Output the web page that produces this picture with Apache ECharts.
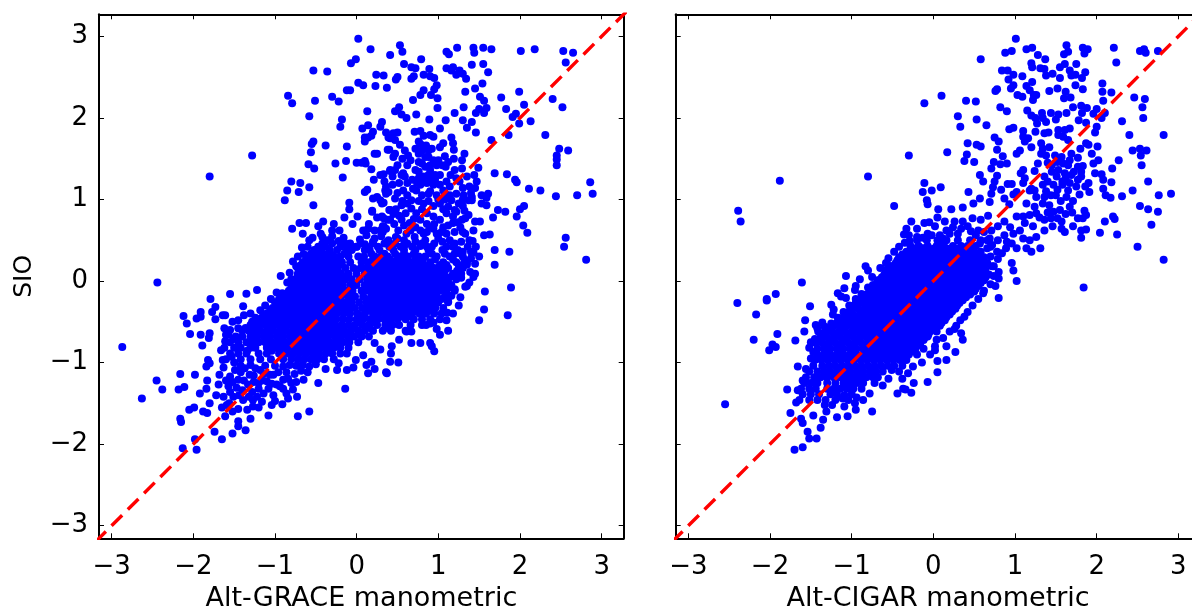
<!DOCTYPE html>
<html><head><meta charset="utf-8">
<style>html,body{margin:0;padding:0;background:#fff;overflow:hidden}#c{width:1192px;height:610px}</style>
<script src="https://cdn.jsdelivr.net/npm/echarts@6/dist/echarts.min.js"></script>
</head><body><div id="c"></div>
<script>
const tickValues=[-3,-2,-1,0,1,2,3];
const xNames=['Alt-GRACE manometric','Alt-CIGAR manometric'];
const yName='SIO';
const diagonal=[[-3.4,-3.4],[3.4,3.4]];
const graceUpper=[[0.02,2.97],[0.17,2.84],[0.41,2.77],[-0.01,2.72],[-0.07,2.67],[-0.53,2.58],[-0.36,2.57],[0.24,2.53],[0.33,2.52],[0.02,2.43],[0.08,2.40],[0.23,2.39],[0.37,2.37],[-0.12,2.34],[-0.08,2.34],[-0.84,2.27],[-0.79,2.18],[-0.51,2.21],[-0.30,2.26],[-0.22,2.20],[0.13,2.08],[-0.58,2.02],[-0.18,1.98],[-0.20,1.89],[0.07,1.87],[0.14,1.91],[0.31,1.95],[0.29,1.89],[0.20,1.83],[0.36,1.82],[0.39,1.76],[0.10,1.76],[0.14,1.76],[0.10,1.71],[0.18,1.78],[-1.28,1.54],[-0.53,1.71],[-0.55,1.68],[-0.38,1.66],[-0.12,1.65],[-0.56,1.58],[0.38,1.61],[0.22,1.56],[0.25,1.56],[-1.80,1.28],[-0.59,1.43],[-0.52,1.38],[-0.26,1.44],[-0.13,1.47],[0,1.45],[0.06,1.45],[0.10,1.47],[0.11,1.44],[0.18,1.37],[0.41,1.35],[-0.17,1.27],[0.29,1.30],[0.33,1.31],[0.21,1.24],[-0.80,1.22],[-0.69,1.20],[-0.58,1.15],[-0.85,1.11],[-0.71,1.09],[-0.88,0.99],[0.34,1.22],[0.36,1.16],[0.39,1.09],[0.10,1.09],[0.13,1.12],[0.20,1.01],[0.25,1.03],[0.29,0.99],[0.33,0.96],[0.36,1.07],[-0.09,0.96],[-0.09,0.88],[-0.53,0.93],[0.19,0.85],[0.40,0.87],[0.01,0.79],[0.31,0.79],[0.33,0.77],[0.38,0.75],[-0.70,0.71],[-0.62,0.71],[-0.41,0.73],[-0.47,0.67],[-0.79,0.64],[-0.66,0.58],[-0.21,0.62],[0.14,0.64],[0.22,0.62],[0.32,0.67],[0.36,0.64],[0.32,0.60],[-0.54,0.53],[-0.58,0.50],[-0.22,0.49],[-0.16,0.53],[0.04,0.51],[-0.67,0.41],[-0.65,0.33],[-0.50,0.38],[-0.08,0.46],[-0.12,0.38],[0,0.42],[0.37,0.48],[-0.93,0.06],[-0.80,0.02],[-2.44,-0.02],[-1.55,-0.16],[-1.35,-0.155],[-1.22,-0.11],[-0.91,-0.15],[-0.74,0.18],[-1.79,-0.22]];
const graceRight=[[0.53,2.89],[0.56,2.81],[0.79,2.72],[0.58,2.66],[0.67,2.62],[0.72,2.61],[0.67,2.48],[0.70,2.51],[0.89,2.60],[0.82,2.53],[0.90,2.51],[0.95,2.49],[0.50,2.50],[0.48,2.47],[1.10,2.81],[1.13,2.78],[1.23,2.86],[1.43,2.86],[1.44,2.80],[1.55,2.86],[1.65,2.84],[2.01,2.82],[2.18,2.84],[2.53,2.82],[2.65,2.80],[2.56,2.68],[1.41,2.65],[1.55,2.66],[1.10,2.61],[1.18,2.62],[1.16,2.58],[1.22,2.53],[1.26,2.58],[1.30,2.54],[1.34,2.48],[1.61,2.56],[1.54,2.42],[0.98,2.40],[0.95,2.35],[0.91,2.28],[0.82,2.34],[0.78,2.28],[0.69,2.22],[0.99,2.24],[0.99,2.12],[1.33,2.32],[1.45,2.36],[1.51,2.26],[1.56,2.21],[1.77,2.25],[1.99,2.32],[2.05,2.16],[2.40,2.23],[2.52,2.13],[1.83,2.11],[1.31,2.13],[0.52,2.13],[0.47,2.08],[0.55,2.04],[0.61,2.00],[0.73,2.04],[0.89,1.98],[1.09,1.97],[1.20,2.06],[1.50,2.11],[1.59,2.12],[1.46,2.06],[1.56,2.06],[1.30,1.97],[1.41,1.95],[1.35,1.88],[1.46,1.82],[1.91,2.01],[1.95,2.05],[1.99,1.93],[2.13,1.96],[1.86,1.79],[1.65,1.73],[2.31,1.79],[2.48,1.62],[2.59,1.60],[2.45,1.54],[2.45,1.49],[2.45,1.42],[1.02,1.87],[0.71,1.83],[0.78,1.84],[0.76,1.71],[0.82,1.78],[0.90,1.79],[0.94,1.77],[0.45,1.81],[0.50,1.82],[0.41,1.75],[0.47,1.73],[0.53,1.67],[0.40,1.61],[0.59,1.60],[0.63,1.54],[0.47,1.56],[0.45,1.52],[0.76,1.56],[0.80,1.60],[0.88,1.60],[0.76,1.46],[0.88,1.52],[0.92,1.62],[1.16,1.76],[1.18,1.69],[1.19,1.61],[1.06,1.69],[1.02,1.64],[1.08,1.53],[1.19,1.50],[1.32,1.56],[1.29,1.48],[1.49,1.39],[1.29,1.38],[0.94,1.48],[1.00,1.48],[0.98,1.42],[1.09,1.40],[0.84,1.40],[0.90,1.42],[0.50,1.42],[0.41,1.36],[0.47,1.36],[0.57,1.32],[0.55,1.30],[0.59,1.28],[0.76,1.34],[0.76,1.26],[0.82,1.28],[0.88,1.30],[0.96,1.30],[0.78,1.18],[0.86,1.20],[0.94,1.18],[1.69,1.32],[1.84,1.31],[1.94,1.24],[1.96,1.21],[1.44,1.30],[1.47,1.22],[1.45,1.14],[1.35,1.28],[1.22,1.26],[1.10,1.22],[1.14,1.16],[1.02,1.18],[1.22,1.07],[1.31,1.05],[2.11,1.13],[2.25,1.11],[2.44,1.04],[2.70,1.05],[2.86,1.21],[2.89,1.07],[1.61,1.07],[1.59,1.02],[1.53,1.05],[1.53,0.95],[1.59,0.93],[1.41,1.03],[1.37,0.99],[1.41,0.99],[1.73,0.87],[1.82,0.85],[2.05,0.92],[2.00,0.88],[1.96,0.79],[2.04,0.68],[2.09,0.59],[1.67,0.78],[1.51,0.73],[1.45,0.73],[1.37,0.81],[1.33,0.77],[1.29,0.75],[1.20,0.87],[1.22,0.85],[1.43,0.62],[1.56,0.56],[1.63,0.57],[1.42,0.49],[1.43,0.35],[1.69,0.38],[1.87,0.36],[1.69,0.20],[1.45,0.21],[2.56,0.53],[2.54,0.42],[2.81,0.26],[1.39,0.11],[1.45,0.09],[1.43,0.05],[1.33,-0.07],[1.35,-0.06],[1.89,-0.08],[1.57,-0.13],[0.73,1.11],[0.69,1.13],[0.88,1.07],[0.98,1.05],[1.06,1.11],[1.16,0.99],[1.12,0.91],[1.02,0.95],[0.67,0.89],[0.55,0.93],[0.41,0.87],[0.47,1.01],[0.57,1.11],[0.67,0.99],[0.82,0.95],[0.19,0.86],[0.31,0.95],[0.35,1.11],[0.73,0.83],[0.86,0.83],[0.94,0.79],[1.02,0.75],[1.10,0.83],[1.18,0.79],[0.41,0.75],[0.55,0.75],[0.65,0.71],[0.78,0.75],[0.90,0.66],[1.06,0.66],[1.18,0.71],[1.27,0.66],[1.33,0.58],[1.10,0.58],[0.98,0.58],[0.82,0.58],[0.71,0.54],[0.61,0.58],[0.51,0.62],[0.39,0.50],[0.33,0.67],[0.29,0.62]];
const graceMid=[[0.78,1.68],[0.85,1.66],[0.72,1.62],[0.84,1.52],[0.8,1.44],[0.72,1.36],[0.9,1.36],[0.8,1.22],[0.9,1.25],[0.96,1.24],[0.74,1.2],[1.02,1.3],[1.05,1.42],[1.12,1.46],[1.15,1.3],[1.2,1.36],[1.26,1.22],[1.3,1.14],[1.38,1.16],[1.4,1.08],[1.08,1.08],[1.14,1.05],[0.62,1.2],[0.68,1.24],[0.52,1.2],[0.44,1.28],[0.62,1.42],[0.66,1.48],[0.56,1.5],[0.8,1.05],[0.76,0.98],[0.88,0.98],[0.94,0.92],[0.62,0.95],[0.48,0.88],[0.6,0.83],[0.8,0.88],[1.06,0.88],[1.25,0.95],[1.3,0.92],[1.32,0.86],[0.86,0.7],[0.72,0.66],[0.58,0.68],[0.46,0.7],[0.94,0.64],[1.0,0.52],[1.14,0.5],[1.2,0.6],[1.28,0.48],[1.36,0.42],[1.3,0.36],[1.4,0.28],[1.35,0.2],[0.3,0.55],[0.22,0.52],[0.12,0.56],[0.48,0.54],[0.58,0.5],[0.72,0.48],[0.84,0.5],[-0.3,0.55],[-0.36,0.5],[-0.44,0.58],[0.08,0.62],[-0.05,0.7],[-0.15,0.78],[-0.28,0.7],
[-0.85,-0.02],[-0.9,-0.2],[-0.98,-0.14],[-1.05,-0.22],[-1.12,-0.3],[-1.18,-0.36],[-1.3,-0.4],[-1.28,-0.5],[-1.45,-0.48],[-1.45,-0.58],[-1.55,-0.6],[-1.6,-0.66],[-0.82,0.1],[-0.78,0.24],[-0.72,0.3],[-0.6,0.42],[-0.42,0.54],[-0.3,0.62],[0.15,0.7],[0.25,0.78],[0.45,0.82],[0.52,0.8],[0.7,0.76],[0.66,0.62],[0.78,0.62],[0.86,0.6],[0.95,0.7],[1.04,0.6],[1.12,0.68],[1.24,0.72],[1.3,0.6],[1.18,0.42],[1.26,0.34],[1.32,0.26],[1.4,0.36],[1.38,0.5],[1.46,0.42],[1.5,0.3],[1.3,0.18],[1.38,-0.02],[1.24,0.1],[1.28,0.04],[1.2,-0.1],[1.25,-0.3],[1.18,-0.4],[0.5,0.52],[0.2,0.48],[0.1,0.45],[0.6,0.45],[0.78,0.43],[0.92,0.42],[1.05,0.48],[0.56,0.98],[0.62,1.05],[0.5,1.08],[0.44,1.18],[0.9,1.1],[1.0,1.0],[1.08,1.0],[1.3,1.0]];
const graceLower=[[-2.12,-0.43],[-2.08,-0.52],[-2.04,-0.65],[-1.91,-0.38],[-1.91,-0.44],[-1.96,-0.46],[-1.73,-0.32],[-1.77,-0.38],[-1.73,-0.47],[-1.64,-0.42],[-1.61,-0.42],[-1.39,-0.31],[-1.38,-0.42],[-1.52,-0.50],[-1.24,-0.45],[-1.22,-0.51],[-1.91,-0.66],[-1.80,-0.64],[-1.81,-0.70],[-1.89,-0.79],[-2.87,-0.81],[-1.62,-0.58],[-1.57,-0.66],[-1.51,-0.71],[-1.61,-0.74],[-1.66,-0.85],[-1.82,-0.97],[-1.80,-1.01],[-1.84,-1.05],[-1.64,-0.97],[-1.63,-1.06],[-1.53,-0.93],[-2.16,-1.14],[-1.98,-1.15],[-2.45,-1.22],[-2.38,-1.33],[-2.63,-1.44],[-2.18,-1.33],[-2.11,-1.30],[-1.83,-1.22],[-1.84,-1.32],[-1.92,-1.38],[-1.68,-1.15],[-1.69,-1.27],[-1.72,-1.40],[-1.63,-1.42],[-1.55,-1.17],[-1.49,-1.09],[-1.45,-1.21],[-1.37,-1.07],[-1.31,-1.15],[-1.18,-1.09],[-1.06,-1.15],[-1.57,-1.29],[-1.47,-1.31],[-1.33,-1.27],[-1.2,-1.25],[-1.1,-1.23],[-1.02,-1.15],[-0.9,-1.21],[-0.98,-1.27],[-0.86,-1.38],[-0.73,-1.42],[-0.94,-1.29],[-0.8,-1.25],[-0.65,-1.21],[-0.47,-1.25],[-1.14,-1.38],[-1.02,-1.4],[-0.91,-1.51],[-1.04,-1.52],[-1.16,-1.48],[-1.27,-1.46],[-1.39,-1.46],[-1.51,-1.42],[-1.59,-1.52],[-1.45,-1.57],[-1.27,-1.54],[-1.2,-1.55],[-1.08,-1.65],[-0.72,-1.66],[-0.58,-1.6],[-2.05,-1.58],[-1.99,-1.55],[-1.88,-1.6],[-1.83,-1.62],[-1.8,-1.5],[-2.16,-1.69],[-2.15,-1.73],[-1.61,-1.66],[-1.65,-1.55],[-1.45,-1.72],[-1.45,-1.78],[-1.3,-1.69],[-1.36,-1.83],[-1.52,-1.87],[-1.74,-1.85],[-1.65,-1.94],[-1.98,-1.94],[-2.13,-2.05],[-1.96,-2.07],[-0.14,-1.32],[-0.38,-1.08],[-0.22,-1.01],[-0.24,-1.09],[-0.12,-1.09],[-0.04,-1.06],[-0.01,-0.97],[0.08,-0.91],[0.18,-0.99],[0.12,-1.03],[0.22,-1.08],[0.14,-1.13],[0.36,-1.12],[1.56,-0.35],[1.50,-0.48],[1.85,-0.42],[1.27,-0.2],[1.16,-0.18],[1.04,-0.22],[1.12,-0.25],[1.11,-0.39],[0.96,-0.33],[1.1,-0.48],[1.12,-0.61],[1.02,-0.66],[0.98,-0.59],[0.9,-0.52],[0.8,-0.54],[0.94,-0.51],[0.67,-0.62],[0.61,-0.62],[0.67,-0.76],[0.78,-0.76],[0.9,-0.76],[0.92,-0.8],[0.95,-0.86],[0.52,-0.72],[0.43,-0.8],[0.42,-0.89],[0.29,-0.84],[0.22,-0.76],[0.41,-0.99],[0.51,-1.0],[0.37,-1.13],
[-1.5,-1.0],[-1.42,-1.04],[-1.3,-1.03],[-1.24,-1.07],[-1.12,-1.04],[-1.0,-1.04],[-0.9,-1.05],[-0.82,-1.03],[-0.74,-1.04],[-0.66,-1.03],[-0.58,-1.05],[-0.5,-1.02],[-1.42,-1.12],[-1.26,-1.16],[-1.14,-1.14],[-0.96,-1.12],[-0.86,-1.12],[-0.76,-1.14],[-0.68,-1.1],[-0.6,-1.12],[-1.52,-1.24],[-1.38,-1.22],[-1.26,-1.24],[-1.16,-1.22],[-1.04,-1.26],[-0.84,-1.2],[-0.74,-1.24],[-1.4,-1.34],[-1.28,-1.36],[-1.2,-1.32],[-1.08,-1.32],[-0.9,-1.32],[-0.78,-1.33],[-1.55,-1.36],[-1.6,-1.22],[-1.44,-1.4],[-1.32,-1.42],[-1.22,-1.42],[-1.0,-1.47],[-0.84,-1.44],[-1.34,-1.58],[-1.52,-1.6],[-1.56,-1.5]];
const graceCoreRows=[
[0.46,[-0.42,-0.3,-0.14,0.05,0.2,0.34,0.47,0.62,0.8,0.95,1.2]],
[0.42,[-0.47,-0.38,-0.2,0.0,0.12,0.26,0.4,0.54,0.68,0.86,1.1]],
[0.38,[-0.52,-0.44,-0.33,-0.24,-0.06,0.1,0.16,0.28,0.45,0.58,0.72,0.88,1.05,1.24]],
[0.335,[-0.56,-0.48,-0.41,-0.32,-0.15,0.18,0.34,0.47,0.58,0.7,0.92,1.08,1.2]],
[0.30,[-0.6,-0.52,-0.45,-0.37,-0.28,-0.2,-0.1,0.02,0.09,0.22,0.3,0.38,0.52,0.63,0.76,0.84,0.98,1.14,1.3]],
[0.265,[-0.62,-0.54,-0.46,-0.38,-0.3,-0.22,0.2,0.31,0.41,0.5,0.6,0.72,0.81,0.96,1.18]],
[0.23,[-0.66,-0.58,-0.5,-0.42,-0.34,-0.26,-0.18,-0.08,0.06,0.14,0.25,0.36,0.45,0.55,0.68,0.75,0.9,1.06,1.22,1.35]],
[0.195,[-0.68,-0.6,-0.53,-0.44,-0.37,-0.29,-0.21,0.17,0.28,0.39,0.47,0.57,0.64,0.72,0.82,0.9,1.02,1.1,1.25]],
[0.16,[-0.72,-0.63,-0.55,-0.47,-0.4,-0.32,-0.24,-0.14,-0.04,0.05,0.12,0.2,0.32,0.42,0.5,0.6,0.67,0.78,0.85,0.95,1.0,1.12,1.3]],
[0.125,[-0.69,-0.61,-0.53,-0.46,-0.38,-0.3,-0.23,0.23,0.31,0.4,0.49,0.57,0.65,0.73,0.81,0.9,0.98,1.08,1.23]],
[0.09,[-0.72,-0.66,-0.58,-0.5,-0.43,-0.35,-0.27,-0.19,-0.1,0,0.1,0.18,0.27,0.35,0.45,0.53,0.61,0.69,0.77,0.86,0.94,1.04,1.18,1.28]],
[0.055,[-0.72,-0.64,-0.56,-0.49,-0.41,-0.34,-0.26,-0.18,0.16,0.25,0.33,0.42,0.5,0.58,0.66,0.74,0.82,0.9,0.99,1.08,1.16]],
[0.02,[-0.75,-0.68,-0.6,-0.53,-0.46,-0.38,-0.3,-0.22,-0.14,-0.06,0.04,0.13,0.22,0.31,0.38,0.46,0.54,0.62,0.7,0.78,0.86,0.95,1.03,1.12,1.22]],
[-0.015,[-0.73,-0.65,-0.58,-0.51,-0.44,-0.36,-0.29,-0.21,0.17,0.25,0.33,0.41,0.5,0.58,0.66,0.74,0.82,0.9,0.99,1.08]],
[-0.05,[-0.78,-0.7,-0.63,-0.55,-0.48,-0.4,-0.33,-0.25,-0.17,-0.08,0.0,0.1,0.18,0.27,0.34,0.42,0.5,0.58,0.66,0.74,0.82,0.9,0.98,1.06,1.16]],
[-0.085,[-0.8,-0.73,-0.65,-0.58,-0.5,-0.43,-0.35,-0.27,-0.2,0.14,0.22,0.3,0.38,0.46,0.54,0.62,0.7,0.78,0.86,0.94,1.02,1.12]],
[-0.12,[-0.83,-0.76,-0.68,-0.6,-0.52,-0.45,-0.37,-0.29,-0.21,-0.13,-0.05,0.06,0.14,0.23,0.3,0.38,0.46,0.54,0.62,0.7,0.78,0.86,0.94,1.02,1.1,1.2]],
[-0.155,[-0.86,-0.79,-0.71,-0.63,-0.55,-0.47,-0.39,-0.31,-0.23,0.19,0.27,0.35,0.43,0.51,0.59,0.67,0.75,0.83,0.92]],
[-0.19,[-0.9,-0.82,-0.74,-0.66,-0.58,-0.5,-0.43,-0.35,-0.27,-0.19,-0.1,-0.02,0.08,0.18,0.26,0.34,0.42,0.5,0.58,0.66,0.74,0.82,0.9,0.98,1.08]],
[-0.225,[-0.95,-0.87,-0.79,-0.71,-0.63,-0.56,-0.47,-0.39,-0.31,-0.23,0.13,0.22,0.3,0.38,0.46,0.54,0.62,0.7,0.78,0.86,0.95]],
[-0.26,[-1.0,-0.92,-0.85,-0.77,-0.69,-0.62,-0.54,-0.46,-0.38,-0.3,-0.22,-0.14,-0.06,0.03,0.12,0.2,0.28,0.36,0.44,0.52,0.6,0.68,0.76,0.84,0.92,1.0,1.12]],
[-0.295,[-0.98,-0.9,-0.82,-0.74,-0.66,-0.58,-0.5,-0.42,-0.34,-0.26,0.16,0.24,0.32,0.4,0.48,0.56,0.64,0.72,0.8,0.88]],
[-0.33,[-1.03,-0.95,-0.88,-0.8,-0.72,-0.65,-0.57,-0.5,-0.42,-0.34,-0.26,-0.18,-0.1,-0.02,0.07,0.16,0.24,0.32,0.4,0.48,0.56,0.64,0.72,0.8,0.88,0.96,1.06]],
[-0.365,[-1.06,-0.98,-0.91,-0.83,-0.75,-0.68,-0.6,-0.52,-0.44,-0.36,-0.28,0.14,0.24,0.32,0.4,0.48,0.56,0.64,0.72,0.81,0.9]],
[-0.40,[-1.1,-1.02,-0.95,-0.87,-0.79,-0.71,-0.64,-0.56,-0.48,-0.4,-0.32,-0.24,-0.16,-0.08,0.01,0.1,0.2,0.28,0.36,0.44,0.52,0.6,0.68,0.77,0.85,0.95,1.04]],
[-0.435,[-1.15,-1.07,-1.0,-0.92,-0.84,-0.76,-0.68,-0.6,-0.53,-0.45,-0.37,-0.29,0.05,0.22,0.38,0.55,0.65]],
[-0.47,[-1.2,-1.12,-1.04,-0.96,-0.88,-0.8,-0.72,-0.65,-0.57,-0.49,-0.41,-0.33,-0.25,-0.17,-0.09,0.0,0.08,0.16,0.26,0.34,0.42,0.5,0.6,0.7,0.8,0.9,1.02]],
[-0.505,[-1.26,-1.16,-1.08,-1.0,-0.93,-0.85,-0.77,-0.69,-0.62,-0.54,-0.46,-0.38,-0.3,0.03,0.2,0.4]],
[-0.54,[-1.3,-1.2,-1.12,-1.05,-0.97,-0.89,-0.81,-0.73,-0.66,-0.58,-0.5,-0.42,-0.34,-0.26,-0.18,-0.1,-0.02,0.07,0.15,0.25,0.35,0.44,0.52,0.66,0.85]],
[-0.575,[-1.36,-1.22,-1.06,-0.9,-0.74,-0.66,-0.59,-0.51,-0.43,-0.35,-0.27,-0.03,0.16,0.38]],
[-0.61,[-1.4,-1.32,-1.25,-1.18,-1.1,-1.02,-0.94,-0.86,-0.78,-0.7,-0.63,-0.55,-0.47,-0.39,-0.31,-0.23,-0.15,-0.07,0.02,0.1,0.2,0.32,0.42,0.6]],
[-0.645,[-1.27,-1.12,-0.94,-0.78,-0.7,-0.62,-0.54,-0.46,-0.38,-0.31,-0.15,0.02]],
[-0.68,[-1.48,-1.4,-1.3,-1.22,-1.14,-1.06,-0.98,-0.9,-0.82,-0.74,-0.66,-0.58,-0.5,-0.42,-0.35,-0.27,-0.19,-0.11,-0.03,0.06,0.15]],
[-0.715,[-1.24,-1.08,-0.92,-0.76,-0.68,-0.6,-0.52,-0.44,-0.37,-0.21]],
[-0.75,[-1.55,-1.45,-1.35,-1.27,-1.2,-1.12,-1.04,-0.96,-0.88,-0.8,-0.72,-0.64,-0.56,-0.48,-0.4,-0.33,-0.25,-0.17,-0.09,0.02]],
[-0.785,[-1.28,-1.06,-0.9,-0.74,-0.66,-0.58,-0.5,-0.42,-0.26]],
[-0.82,[-1.62,-1.5,-1.42,-1.3,-1.24,-1.1,-1.0,-0.92,-0.84,-0.76,-0.68,-0.6,-0.52,-0.44,-0.36,-0.28,-0.2,-0.1]],
[-0.855,[-1.34,-1.04,-0.88,-0.72,-0.64,-0.56,-0.48,-0.32]],
[-0.89,[-1.55,-1.45,-1.35,-1.2,-1.1,-0.95,-0.86,-0.78,-0.7,-0.62,-0.54,-0.46,-0.38,-0.3,-0.2,-0.12]],
[-0.96,[-1.6,-1.42,-1.3,-1.18,-1.05,-0.9,-0.8,-0.72,-0.64,-0.56,-0.48,-0.4,-0.28]]
];
const cigarOuter=[[-0.11,2.18],[-0.30,1.54],[-0.8,1.28],[-1.88,1.23],[-2.39,0.86],[-2.36,0.73],[-0.48,0.92],[-0.11,1.2],[-0.13,1.09],[-0.08,0.99],[-0.07,0.94],[-0.27,0.73],[-0.11,0.71],[-0.33,0.64],[-0.2,0.64],[-0.36,0.57],[-0.29,0.49],[-0.2,0.54],[-0.13,0.53],[-0.07,0.58],[-0.58,0.22],[-0.83,0.18],[-0.8,0.13],[-1.07,0.06],[-0.9,0.02],[-1.09,-0.09],[-1.61,-0.02],[-1.93,-0.16],[-2.04,-0.22],[-1.17,-0.15],[-1.07,-0.21],[-0.95,-0.06],[-0.96,-0.11],[-0.74,-0.05],[-0.68,0.01],[-0.25,0.4],[-0.15,0.4],[-0.11,0.4],[-0.29,0.34],[-0.19,0.22],
[1.01,2.97],[0.88,2.8],[0.96,2.82],[1.14,2.84],[1.21,2.86],[1.28,2.77],[1.37,2.72],[1.63,2.89],[1.65,2.81],[1.6,2.78],[1.83,2.86],[1.89,2.84],[1.85,2.79],[2.21,2.86],[2.53,2.82],[2.58,2.84],[2.6,2.8],[2.75,2.82],[2.24,2.68],[0.58,2.72],[1.2,2.67],[1.21,2.62],[0.84,2.58],[0.91,2.58],[0.98,2.53],[1.09,2.51],[0.92,2.47],[1.31,2.61],[1.36,2.6],[1.38,2.52],[1.46,2.54],[1.55,2.62],[1.61,2.66],[1.75,2.66],[1.55,2.49],[1.67,2.58],[1.69,2.52],[1.74,2.53],[1.86,2.56],[1.82,2.49],[2.07,2.42],[2.07,2.32],[2.18,2.31],[1.21,2.44],[1.14,2.39],[1.18,2.34],[0.98,2.4],[0.95,2.36],[0.76,2.33],[0.78,2.35],[1.42,2.33],[1.52,2.36],[1.62,2.32],[1.74,2.4],[1.83,2.35],[1.03,2.28],[1.09,2.26],[1.23,2.28],[1.26,2.28],[1.22,2.22],[1.6,2.24],[1.68,2.25],[0.1,2.27],[0.4,2.21],[0.52,2.2],[2.08,2.21],[2.46,2.25],[2.59,2.23],[2.56,2.13],[2.57,2.0],[0.82,2.13],[0.9,2.08],[1.15,2.09],[1.2,2.03],[1.25,2],[1.27,1.93],[1.33,2.06],[1.34,2.0],[1.38,1.95],[1.44,2.06],[1.53,2.04],[1.5,1.98],[1.63,2.06],[1.71,2.13],[1.81,2.15],[1.88,2.12],[1.82,2.06],[2.0,2.11],[1.96,2.05],[2.1,2.06],[1.78,1.97],[1.87,1.94],[2.06,2],[2.0,1.89],[0.3,2.02],[0.53,1.98],[0.33,1.89],[0.65,1.91],[2.31,1.96],[0.93,1.86],[0.98,1.88],[1.1,1.84],[1.25,1.83],[1.36,1.81],[1.41,1.82],[1.67,1.87],[1.53,1.85],[1.61,1.85],[1.53,1.79],[1.59,1.77],[1.65,1.73],[1.98,1.82],[2.4,1.79],[2.82,1.79],[0.75,1.76],[0.8,1.71],[1.1,1.77],[1.16,1.75],[1.12,1.71],[1.2,1.64],[1.06,1.6],[1.02,1.56],[0.42,1.69],[0.53,1.67],[0.58,1.65],[0.17,1.58],[0.41,1.55],[0.38,1.47],[0.5,1.46],[0.78,1.61],[0.85,1.53],[0.74,1.46],[0.82,1.43],[0.9,1.44],[0.71,1.38],[1.32,1.69],[1.34,1.62],[1.42,1.64],[1.32,1.56],[1.38,1.54],[1.49,1.54],[1.28,1.44],[1.4,1.45],[1.87,1.69],[1.9,1.67],[2.01,1.65],[1.8,1.62],[1.94,1.56],[1.69,1.56],[1.67,1.48],[1.77,1.51],[2.02,1.48],[1.96,1.44],[2.27,1.48],[2.44,1.6],[2.53,1.62],[2.54,1.54],[2.61,1.6],[2.55,1.42],[1.57,1.52],[1.59,1.44],[1.53,1.36],[1.45,1.34],[1.51,1.28],[1.61,1.32],[1.69,1.3],[1.77,1.4],[1.83,1.41],[1.81,1.34],[2.19,1.38],[1.1,1.36],[1.07,1.32],[1.24,1.35],[1.12,1.26],[1.1,1.2],[1.36,1.28],[1.4,1.22],[1.47,1.18],[1.34,1.18],[1.24,1.11],[1.2,1.13],[0.57,1.3],[0.61,1.22],[0.78,1.29],[0.75,1.22],[0.73,1.15],[0.91,1.19],[0.96,1.19],[0.71,1.07],[0.83,1.12],[0.43,1.09],[0.09,1.15],[-0.02,1.11],[1.77,1.24],[1.81,1.28],[1.67,1.2],[1.75,1.16],[1.65,1.11],[1.79,1.06],[1.91,1.09],[1.98,1.32],[2.06,1.31],[2.08,1.24],[2.18,1.21],[2.08,1.13],[2.11,1.05],[2.17,1.02],[2.31,1.04],[2.44,1.11],[2.63,1.22],[2.76,1.05],[2.91,1.07],[1.02,1.09],[0.98,1.06],[0.87,1.01],[0.93,0.94],[0.69,0.97],[0.57,1.01],[0.49,0.95],[0.36,0.9],[0.22,0.88],[0.06,0.88],[1.18,1.11],[1.26,1.03],[1.36,1.03],[1.44,1.05],[1.14,0.95],[1.24,0.91],[1.34,0.95],[1.42,0.93],[1.55,0.87],[1.63,1.03],[1.71,0.98],[1.67,0.91],[2.53,0.92],[2.63,0.88],[2.75,0.85],[2.67,0.69],[2.5,0.42],[2.82,0.26],[1.84,-0.08],[2.2,0.79],[2.22,0.76],[2.1,0.73],[2.04,0.59],[2.25,0.57],[1.85,0.86],[1.87,0.81],[1.77,0.77],[1.83,0.77],[1.71,0.67],[1.81,0.62],[1.87,0.63],[1.81,0.53],[1.61,0.6],[1.57,0.64],[1.1,0.79],[1.18,0.81],[1.26,0.83],[1.36,0.75],[1.44,0.77],[1.52,0.77],[1.57,0.73],[1.46,0.67],[1.36,0.62],[1.22,0.67],[1.12,0.71],[1.02,0.79],[0.67,0.8],[0.48,0.77],[0.58,0.75],[0.36,0.73],[0.26,0.73],[0.14,0.73],[0.02,0.67],[0.87,0.73],[0.79,0.67],[0.71,0.62],[0.42,0.67],[0.46,0.61],[0.2,0.58],[0.3,0.58],[1.26,0.54],[1.18,0.5],[1.1,0.52],[0.98,0.58],[1.06,0.62],[0.87,0.56],[0.79,0.5],[0.69,0.52],[1.14,0.4],[1.2,0.36],[1.31,0.4],[1.02,0.4],[0.89,0.4],[0.79,0.27],[0.96,0.22],[0.98,0.13],[1.02,0.0],[0.8,0.11],[0.8,0.03],[0.76,-0.06],[0.57,0.46],[0.08,0.48],[0.04,0.4],[0.61,-0.15],[0.8,-0.21],
[0.94,0.66],[0.9,0.48],[0.96,0.46],[0.72,0.44],[0.78,0.36],[0.7,0.3],[0.84,0.34],[0.74,0.18],[0.66,0.4],[0.16,0.62],[0.24,0.66],[0.34,0.64],[0.52,0.56],[0.62,0.6],[0.08,0.56],[-0.02,0.56],[0.12,0.52],[-0.05,0.72],[0.05,0.78],[1.38,1.1],[1.52,1.12],[1.58,1.18],[1.5,1.05],[1.56,0.98],[1.47,0.85],[1.3,0.78],[1.4,0.84],[1.62,0.82],[1.7,0.84],[1.65,1.42],[1.72,1.34],[1.45,1.42],[1.52,1.46],[1.62,1.26],[1.58,1.22],[1.9,1.2],[1.86,1.16],
[-0.75,0.05],[-0.8,-0.08],[-0.88,-0.16],[-0.95,-0.22],[-1.03,-0.3],[-1.1,-0.38],[-1.17,-0.45],[-1.25,-0.52],[-1.33,-0.56],[-1.42,-0.58],[-1.5,-0.75],[-1.52,-0.82],[-1.5,-0.95],[-0.65,0.16],[-0.55,0.28],[-0.48,0.36],[-0.42,0.42],[-0.35,0.47],[-0.3,0.56],[0.72,0.18],[0.74,0.06],[0.7,-0.04],[0.62,-0.12],[0.55,-0.22],[0.48,-0.3],[0.42,-0.38],[0.38,-0.44],[0.28,-0.55],[0.2,-0.62],[0.12,-0.7],[0.02,-0.8],[-0.04,-0.9],[-0.14,-1.0],[-0.25,-1.05],[-0.38,-1.2],[-0.55,-1.2],[-0.62,-1.28],[-0.78,-1.38],[0.55,0.62],[0.66,0.5],[0.7,0.42]];
const cigarLower=[[-0.44,-1.38],[-0.37,-1.32],[-0.34,-1.33],[-0.27,-1.37],[-0.24,-1.25],[-0.07,-1.24],[0.05,-1.12],[0.05,-0.98],[0.16,-0.97],[-0.31,-1.13],[-0.51,-1.09],[0.02,-0.85],[-0.07,-0.68],[0.04,-0.72],[0.16,-0.8],[0.27,-0.87],[0.26,-0.59],[0.34,-0.64],[0.33,-0.48],[0.36,-0.72],[-0.75,-1.6],[-0.86,-1.46],[-0.94,-1.43],[-0.96,-1.5],[-0.95,-1.58],[-1.05,-1.66],[-1.09,-1.54],[-1.11,-1.44],[-1.09,-1.4],[-1.18,-1.67],[-1.24,-1.52],[-1.33,-1.52],[-1.31,-1.6],[-1.35,-1.7],[-1.47,-1.65],[-1.38,-1.8],[-1.43,-1.93],[-1.52,-1.93],[-1.54,-1.85],[-1.6,-1.74],[-1.62,-1.69],[-1.6,-2.04],[-1.7,-2.07],[-1.75,-1.62],[-1.68,-1.49],[-1.79,-1.33],[-1.66,-1.34],[-1.6,-1.22],[-1.66,-1.05],[-1.56,-1.08],[-2.55,-1.51],[-2.4,-0.27],[-2.04,-0.24],[-2.17,-0.41],[-2.2,-0.72],[-1.91,-0.65],[-2.01,-0.85],[-1.97,-0.78],[-1.93,-0.81],[-1.69,-0.73],[-1.58,-0.62],[-1.57,-0.48],[-1.51,-0.31],[-1.25,-0.29],[-1.22,-0.35],[-1.23,-0.41],[-1.36,-0.51],[-1.44,-0.54],[-1.41,-0.62],[-1.45,-0.71],[-1.27,-0.6],[-1.47,-0.87],[-1.13,-0.19]];
const cigarCoreRows=[
[0.5,[-0.2,-0.08,0.05,0.16,0.3,0.45,0.58]],
[0.43,[-0.28,-0.18,-0.07,0.04,0.13,0.24,0.34,0.42,0.52]],
[0.395,[-0.22,-0.12,0.0,0.08,0.18,0.28,0.38,0.46]],
[0.36,[-0.33,-0.24,-0.15,-0.06,0.02,0.1,0.18,0.26,0.34,0.42,0.5,0.58]],
[0.325,[-0.38,-0.3,-0.22,-0.13,-0.04,0.05,0.14,0.22,0.3,0.38,0.46,0.54]],
[0.29,[-0.42,-0.34,-0.26,-0.18,-0.1,-0.02,0.06,0.14,0.22,0.3,0.38,0.46,0.54,0.62]],
[0.255,[-0.44,-0.36,-0.28,-0.2,-0.12,-0.04,0.04,0.12,0.2,0.28,0.36,0.44,0.52,0.6]],
[0.22,[-0.46,-0.38,-0.3,-0.22,-0.14,-0.06,0.02,0.1,0.18,0.26,0.34,0.42,0.5,0.58,0.66]],
[0.185,[-0.52,-0.44,-0.36,-0.28,-0.2,-0.12,-0.04,0.06,0.14,0.22,0.3,0.38,0.46,0.54,0.62]],
[0.15,[-0.56,-0.48,-0.4,-0.32,-0.24,-0.16,-0.08,0,0.08,0.16,0.24,0.32,0.4,0.48,0.56,0.64]],
[0.115,[-0.58,-0.5,-0.42,-0.34,-0.26,-0.18,-0.1,-0.02,0.06,0.14,0.22,0.3,0.38,0.46,0.54,0.62]],
[0.08,[-0.6,-0.52,-0.44,-0.36,-0.28,-0.2,-0.12,-0.04,0.04,0.12,0.2,0.28,0.36,0.44,0.52,0.6,0.68]],
[0.045,[-0.63,-0.55,-0.47,-0.39,-0.31,-0.23,-0.15,-0.07,0.01,0.09,0.17,0.25,0.33,0.41,0.49,0.57,0.64]],
[0.01,[-0.66,-0.58,-0.5,-0.42,-0.34,-0.26,-0.18,-0.1,-0.02,0.06,0.14,0.22,0.3,0.38,0.46,0.54,0.62]],
[-0.025,[-0.69,-0.61,-0.53,-0.45,-0.37,-0.29,-0.21,-0.13,-0.05,0.03,0.11,0.19,0.27,0.35,0.43,0.51,0.58]],
[-0.06,[-0.72,-0.64,-0.56,-0.48,-0.4,-0.32,-0.24,-0.16,-0.08,0,0.08,0.16,0.24,0.32,0.4,0.48,0.55]],
[-0.095,[-0.75,-0.67,-0.59,-0.51,-0.43,-0.35,-0.27,-0.19,-0.11,-0.03,0.05,0.13,0.21,0.29,0.37,0.45,0.52]],
[-0.13,[-0.78,-0.7,-0.62,-0.54,-0.46,-0.38,-0.3,-0.22,-0.14,-0.06,0.02,0.1,0.18,0.26,0.34,0.42,0.5]],
[-0.165,[-0.82,-0.74,-0.66,-0.58,-0.5,-0.42,-0.34,-0.26,-0.18,-0.1,-0.02,0.06,0.14,0.22,0.3,0.38,0.45]],
[-0.2,[-0.86,-0.78,-0.7,-0.62,-0.54,-0.46,-0.38,-0.3,-0.22,-0.14,-0.06,0.02,0.1,0.18,0.26,0.34,0.4]],
[-0.235,[-0.91,-0.83,-0.75,-0.67,-0.59,-0.51,-0.43,-0.35,-0.27,-0.19,-0.11,-0.03,0.05,0.13,0.21,0.29,0.36]],
[-0.27,[-0.95,-0.87,-0.79,-0.71,-0.63,-0.55,-0.47,-0.39,-0.31,-0.23,-0.15,-0.07,0.01,0.09,0.17,0.25,0.32]],
[-0.305,[-0.98,-0.82,-0.74,-0.66,-0.58,-0.5,-0.42,-0.34,-0.26,-0.18,-0.1,-0.02,0.06,0.14,0.22,0.29]],
[-0.34,[-1.0,-0.92,-0.84,-0.76,-0.68,-0.6,-0.52,-0.44,-0.36,-0.28,-0.2,-0.12,-0.04,0.04,0.12,0.2,0.27]],
[-0.375,[-1.03,-0.79,-0.71,-0.63,-0.55,-0.47,-0.39,-0.31,-0.23,-0.15,-0.07,0.01,0.09,0.17,0.23]],
[-0.41,[-1.06,-0.98,-0.9,-0.82,-0.74,-0.66,-0.58,-0.5,-0.42,-0.34,-0.26,-0.18,-0.1,-0.02,0.06,0.14,0.2]],
[-0.445,[-1.1,-1.02,-0.94,-0.86,-0.78,-0.7,-0.62,-0.54,-0.46,-0.38,-0.3,-0.22,-0.14,-0.06,0.02,0.1,0.16]],
[-0.48,[-1.15,-1.07,-0.99,-0.91,-0.83,-0.75,-0.67,-0.59,-0.51,-0.43,-0.35,-0.27,-0.19,-0.11,-0.03,0.05,0.14]],
[-0.515,[-1.18,-1.1,-1.02,-0.94,-0.86,-0.78,-0.7,-0.62,-0.54,-0.46,-0.38,-0.3,-0.22,-0.14,-0.06,0.02,0.1]],
[-0.55,[-1.22,-1.14,-1.06,-0.98,-0.9,-0.82,-0.74,-0.66,-0.58,-0.5,-0.42,-0.34,-0.26,-0.18,-0.1,-0.02,0.08]],
[-0.585,[-1.27,-1.11,-0.95,-0.87,-0.79,-0.71,-0.63,-0.55,-0.47,-0.39,-0.31,-0.23,-0.15,-0.07,0.02]],
[-0.62,[-1.32,-1.24,-1.16,-1.08,-1.0,-0.92,-0.84,-0.76,-0.68,-0.6,-0.52,-0.44,-0.36,-0.28,-0.2,-0.12,-0.04,0.04]],
[-0.655,[-1.35,-1.19,-1.03,-0.87,-0.79,-0.71,-0.63,-0.55,-0.47,-0.39,-0.31,-0.23,-0.15,-0.06]],
[-0.69,[-1.38,-1.3,-1.22,-1.14,-1.06,-0.98,-0.9,-0.82,-0.74,-0.66,-0.58,-0.5,-0.42,-0.34,-0.26,-0.18,-0.1]],
[-0.725,[-1.4,-1.24,-1.08,-0.92,-0.76,-0.68,-0.6,-0.52,-0.44,-0.36,-0.28,-0.2,-0.12]],
[-0.76,[-1.44,-1.36,-1.28,-1.2,-1.12,-1.04,-0.96,-0.88,-0.8,-0.72,-0.64,-0.56,-0.48,-0.4,-0.32,-0.24,-0.16]],
[-0.795,[-1.32,-1.16,-1.0,-0.84,-0.76,-0.68,-0.6,-0.52,-0.44,-0.36,-0.28,-0.2]],
[-0.83,[-1.42,-1.34,-1.26,-1.18,-1.1,-1.02,-0.94,-0.86,-0.78,-0.7,-0.62,-0.54,-0.46,-0.38,-0.3,-0.22,-0.12]],
[-0.865,[-1.3,-1.14,-0.98,-0.82,-0.74,-0.66,-0.58,-0.5,-0.42,-0.34,-0.26]],
[-0.9,[-1.42,-1.34,-1.26,-1.18,-1.1,-1.02,-0.94,-0.86,-0.78,-0.7,-0.62,-0.54,-0.46,-0.38,-0.3,-0.2]],
[-0.935,[-1.3,-1.06,-0.9,-0.74,-0.66,-0.58,-0.5,-0.42,-0.34]],
[-0.97,[-1.45,-1.37,-1.29,-1.21,-1.13,-1.05,-0.97,-0.89,-0.81,-0.73,-0.65,-0.57,-0.49,-0.41,-0.33]],
[-1.04,[-1.47,-1.36,-1.28,-1.2,-1.12,-1.04,-0.96,-0.88,-0.8,-0.72,-0.64,-0.56,-0.48,-0.38]],
[-1.11,[-1.52,-1.42,-1.34,-1.26,-1.18,-1.1,-1.02,-0.94,-0.86,-0.78,-0.7,-0.62,-0.42]],
[-1.18,[-1.56,-1.46,-1.38,-1.3,-1.22,-1.14,-1.06,-0.98,-0.9,-0.82,-0.74,-0.68]],
[-1.25,[-1.58,-1.5,-1.42,-1.3,-1.2,-1.1,-1.02,-0.94,-0.86,-0.72]],
[-1.32,[-1.62,-1.52,-1.44,-1.3,-1.22,-1.14,-1.06,-0.98,-0.88]],
[-1.39,[-1.6,-1.5,-1.4,-1.26,-1.18,-1.0]],
[-1.46,[-1.64,-1.52,-1.42,-1.32,-1.2,-1.04]]
];

const expand=rows=>rows.flatMap(([y,xs])=>xs.map(x=>[x,y]));
const gracePts=[...graceUpper,...graceRight,...graceMid,...graceLower,...expand(graceCoreRows)];
const cigarPts=[...cigarOuter,...cigarLower,...expand(cigarCoreRows)];

const lim={min:-3.155,max:3.27};
const font='"DejaVu Sans"';
const fmt=v=>String(v).replace('-','\u2212');
const spine={show:true,onZero:false,lineStyle:{color:'#000',width:2}};
const tick=()=>({show:true,inside:true,length:5,lineStyle:{color:'#000',width:1},customValues:tickValues});
function xAx(i,pos,labels){return Object.assign({type:'value',gridIndex:i,position:pos,...lim,splitLine:{show:false},axisLine:spine,axisTick:tick(),
  axisLabel:{show:labels,customValues:tickValues,formatter:fmt,fontFamily:font,fontSize:26,color:'#000',margin:16,hideOverlap:false,showMinLabel:true,showMaxLabel:true}},
  labels?{name:xNames[i],nameLocation:'middle',nameGap:47,nameTextStyle:{fontFamily:font,fontSize:27,color:'#000'}}:{});}
function yAx(i,pos,labels,named){return Object.assign({type:'value',gridIndex:i,position:pos,...lim,splitLine:{show:false},axisLine:spine,axisTick:tick(),
  axisLabel:{show:labels,customValues:tickValues,formatter:fmt,fontFamily:font,fontSize:26,color:'#000',margin:11,hideOverlap:false}},
  named?{name:yName,nameLocation:'middle',nameGap:62,nameRotate:90,nameTextStyle:{fontFamily:font,fontSize:25,color:'#000'}}:{});}
const dots=(i,d)=>({type:'scatter',xAxisIndex:i,yAxisIndex:i,data:d,symbolSize:8,itemStyle:{color:'#0000ff',opacity:1},z:2,large:false,progressive:0,silent:true});
const dash=(i)=>({type:'line',xAxisIndex:i,yAxisIndex:i,data:diagonal,symbol:'none',clip:true,lineStyle:{color:'#ff0000',width:3.4,type:[15,8]},z:3,silent:true});
const chart=echarts.init(document.getElementById('c'),null,{renderer:'canvas'});
chart.setOption({animation:false,backgroundColor:'#fff',
 grid:[{left:99,right:568.3,top:14.3,bottom:71.7,outerBoundsMode:'none'},{left:675.7,right:-8.4,top:14.3,bottom:71.7,outerBoundsMode:'none'}],
 xAxis:[xAx(0,'bottom',true),xAx(1,'bottom',true),xAx(0,'top',false),xAx(1,'top',false)],
 yAxis:[yAx(0,'left',true,true),yAx(1,'left',false,false),yAx(0,'right',false,false),yAx(1,'right',false,false)],
 series:[dots(0,gracePts),dots(1,cigarPts),dash(0),dash(1)]});
</script></body></html>
